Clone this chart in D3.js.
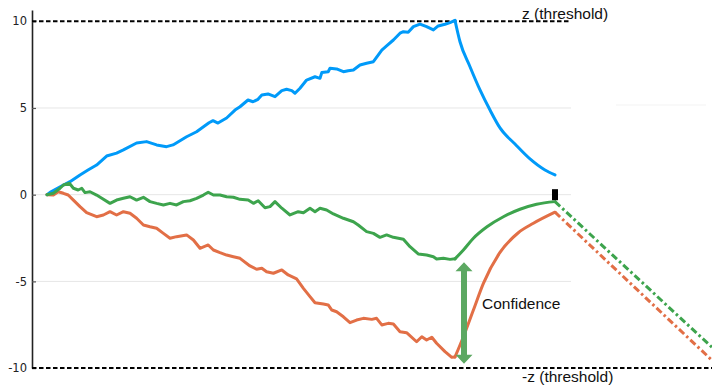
<!DOCTYPE html>
<html>
<head>
<meta charset="utf-8">
<script src="https://cdn.jsdelivr.net/npm/d3@7"></script>
<style>
  html, body { margin: 0; padding: 0; background: #fff; }
  svg { display: block; }
</style>
</head>
<body>
<svg id="chart" width="712" height="385"></svg>
<script>
// Evidence accumulation: three random walks race toward ±z, then relax.
const yTicks = [-10, -5, 0, 5, 10];
const gridValues = [5, 0, -5];
const thresholdValues = [10, -10];
const thresholdLabels = ["z (threshold)", "-z (threshold)"];

// accumulation phase (steps, values)
const blueSteps = [0, 1, 4.1, 5.75, 8.25, 10.25, 12.4, 14.9, 17.4, 19.1, 22.4, 24.9, 27.4, 29.9, 31.5, 34.9, 37.4,
  40.5, 41.5, 42.75, 44.9, 47, 48.25, 50.25, 51.5, 52.75, 53.7, 55.25, 57, 58.7, 59.9, 61.2, 62, 63.25, 64.9, 67,
  68.25, 68.7, 70.3, 70.75, 72.4, 74.1, 75.3, 76.6, 78.25, 79.9, 81.6, 83.7, 84.9, 86.6, 88.25, 89.1, 90.3, 91.6,
  93.25, 94.9, 96.6, 97.8, 99.5, 100.75, 102];
const blueValues = [0, 0.17, 0.56, 0.75, 1.14, 1.42, 1.71, 2.23, 2.40, 2.58, 2.98, 3.06, 2.87, 2.77, 2.87, 3.34, 3.63,
  4.15, 4.27, 4.13, 4.42, 4.88, 5.07, 5.46, 5.36, 5.50, 5.75, 5.81, 5.65, 6.00, 6.08, 6.00, 5.85, 6.14, 6.61, 6.80,
  6.71, 7.04, 7.09, 7.29, 7.25, 7.09, 7.15, 7.19, 7.48, 7.58, 7.67, 8.34, 8.58, 8.92, 9.31, 9.40, 9.37, 9.69,
  9.84, 9.69, 9.50, 9.73, 9.83, 9.92, 10.05];

const greenSteps = [0, 1.6, 3.25, 4.1, 5.6, 6.6, 7.8, 8.7, 9.5, 10.75, 12.4, 13.7, 15.75, 17.4, 19.1, 20.75, 22.4,
  24.1, 25.75, 27.4, 29.1, 30.75, 32.4, 34.1, 35.75, 37.4, 39.1, 40.3, 41.6, 43.25, 44.9, 46.6, 48.25, 50.3, 51.6,
  52.8, 54.5, 55.75, 57, 58.7, 60.75, 62.8, 64.1, 65.75, 67, 68.25, 69.9, 71.6, 74.1, 76.6, 77.8, 79.9, 81.6, 83.25,
  84.9, 86.6, 89.1, 90.75, 92.8, 94.9, 96.6, 97.4, 99.1, 100.75, 102];
const greenValues = [0, 0.08, 0.37, 0.56, 0.66, 0.37, 0.27, 0.37, 0.12, 0.17, -0.02, -0.21, -0.50, -0.31, -0.21, -0.12,
  -0.31, -0.15, -0.40, -0.50, -0.59, -0.50, -0.59, -0.40, -0.35, -0.21, -0.02, 0.14, -0.02, -0.02, -0.12, -0.15,
  -0.27, -0.31, -0.50, -0.35, -0.75, -0.69, -0.40, -0.78, -1.17, -0.98, -1.04, -0.78, -0.98, -0.78, -0.88, -1.11,
  -1.36, -1.56, -1.75, -2.13, -2.23, -2.46, -2.32, -2.46, -2.57, -3.00, -3.42, -3.48, -3.58, -3.71, -3.67, -3.73,
  -3.70];

const orangeSteps = [0, 1.6, 2.8, 4.1, 5.3, 6.6, 8.25, 9.9, 12.4, 14.1, 15.75, 17.4, 19.1, 20.75, 22.4, 24.1, 25.75,
  27.4, 29.1, 30.75, 32.4, 34.9, 36.6, 38.25, 40.3, 41.6, 43.25, 44.9, 46.6, 48.25, 50.75, 52.4, 53.7, 54.9, 56.6,
  58.7, 60.3, 62.4, 64.1, 65.75, 67, 69.1, 70.3, 71.2, 72.4, 74.1, 75.75, 77.4, 79.1, 81.2, 82.4, 83.7, 85.3, 86.6,
  88.25, 89.9, 92.4, 93.7, 94.9, 96.2, 97.4, 99.5, 101.2, 102];
const orangeValues = [0, -0.02, 0.17, 0.08, -0.02, -0.31, -0.69, -1.04, -1.27, -1.17, -0.98, -1.17, -0.98, -1.07,
  -1.36, -1.75, -1.85, -1.94, -2.23, -2.51, -2.42, -2.32, -2.61, -3.09, -2.90, -3.19, -3.34, -3.48, -3.58, -3.67,
  -4.11, -4.30, -4.24, -4.44, -4.53, -4.34, -4.63, -4.86, -5.40, -5.88, -6.23, -6.30, -6.36, -6.65, -6.75, -7.04,
  -7.38, -7.23, -7.13, -7.19, -7.13, -7.51, -7.42, -7.46, -7.90, -7.96, -8.48, -8.19, -8.38, -8.22, -8.57, -9.05,
  -9.38, -9.36];

// relaxation phase after the decision
const blueDecaySteps = [102, 103.25, 105.75, 108.25, 110.75, 113.25, 117, 120.75, 124.5, 127];
const blueDecayValues = [10.05, 8.82, 7.38, 6.04, 4.88, 3.85, 2.92, 2.06, 1.42, 1.14];
const riseSteps = [102, 104.1, 106.6, 109.1, 110, 113.25, 114.1, 117.75, 118.25, 121.6, 122.4, 127];
const greenRiseValues = [-3.70, -3.19, -2.51, null, -1.85, null, -1.27, null, -0.84, null, -0.55, -0.40];
const orangeRiseValues = [-9.36, -8.19, -6.65, -5.11, null, -3.33, null, -2.21, null, -1.65, null, -1.01];

// projected continuation (dash-dot)
const projSteps = [127, 166.25];
const greenProjValues = [-0.40, -8.80];
const orangeProjValues = [-1.01, -9.55];

// annotation values
const markerStep = 127, markerValue = 0;
const arrowStep = 104.25, arrowTop = -3.9, arrowBottom = -9.75;
const confidenceLabel = "Confidence";

const colors = { blue: "#009AF9", orange: "#E26F46", green: "#3DA44D" };

const svg = d3.select("#chart");
const x = d3.scaleLinear().domain([0, 166.25]).range([47, 712]);
const y = d3.scaleLinear().domain([-10, 10.65]).range([368.1, 10]);

const plotLeft = x(-3.75), plotRight = x(131);

// gridlines
svg.append("g").selectAll("line").data(gridValues).join("line")
  .attr("x1", plotLeft).attr("x2", plotRight)
  .attr("y1", d => y(d)).attr("y2", d => y(d))
  .attr("stroke", "#e6e6e6").attr("stroke-width", 1);

// faint frame fragment at upper right
svg.append("line")
  .attr("x1", x(142.25)).attr("x2", x(164.75))
  .attr("y1", y(5.17)).attr("y2", y(5.17))
  .attr("stroke", "#f3f3f3").attr("stroke-width", 1);

// y axis, ticks pointing into the plot; labels use a plain hyphen for negatives
const axis = svg.append("g")
  .attr("transform", `translate(${plotLeft},0)`)
  .call(d3.axisLeft(y).tickValues(yTicks).tickSize(-4).tickSizeOuter(0).tickPadding(5).tickFormat(d => String(d)));
axis.select(".domain").attr("stroke", "#222").attr("stroke-width", 1.6);
axis.selectAll(".tick line").attr("stroke", "#555").attr("stroke-width", 1.2);
axis.selectAll(".tick text")
  .attr("fill", "#222").style("font-family", "DejaVu Sans, sans-serif").style("font-size", "11.5px");

// thresholds
const thrEnd = [plotRight, 712];
svg.append("g").selectAll("line").data(thresholdValues).join("line")
  .attr("x1", plotLeft).attr("x2", (d, i) => thrEnd[i])
  .attr("y1", d => y(d)).attr("y2", d => y(d))
  .attr("stroke", "#000").attr("stroke-width", 2).attr("stroke-dasharray", "4.5,2.5");
const thrBaseline = [19, 382];
svg.append("g").selectAll("text").data(thresholdLabels).join("text")
  .attr("x", 522).attr("y", (d, i) => thrBaseline[i])
  .attr("fill", "#111")
  .style("font-family", "Liberation Sans, Arial, sans-serif").style("font-size", "15.5px")
  .text(d => d);

const zip = (xs, vs) => xs.map((s, i) => [s, vs[i]]).filter(p => p[1] !== null);
const walkLine = d3.line().x(d => x(d[0])).y(d => y(d[1]));
const smoothLine = d3.line().x(d => x(d[0])).y(d => y(d[1])).curve(d3.curveMonotoneX);

function draw(path, data, color, dash) {
  svg.append("path").attr("d", path(data))
    .attr("fill", "none").attr("stroke", color).attr("stroke-width", 3)
    .attr("stroke-linejoin", "round").attr("stroke-linecap", dash ? "butt" : "round")
    .attr("stroke-dasharray", dash || null);
}

// projected continuations
draw(walkLine, zip(projSteps, greenProjValues), colors.green, "7,3,2.5,3");
draw(walkLine, zip(projSteps, orangeProjValues), colors.orange, "7,3,2.5,3");

// relaxation curves
draw(smoothLine, zip(blueDecaySteps, blueDecayValues), colors.blue);
draw(smoothLine, zip(riseSteps, greenRiseValues), colors.green);
draw(smoothLine, zip(riseSteps, orangeRiseValues), colors.orange);

// walks
draw(walkLine, zip(blueSteps, blueValues), colors.blue);
draw(walkLine, zip(orangeSteps, orangeValues), colors.orange);
draw(walkLine, zip(greenSteps, greenValues), colors.green);

// decision marker
svg.append("rect")
  .attr("x", x(markerStep) - 3).attr("y", y(markerValue) - 5.5)
  .attr("width", 6).attr("height", 11).attr("fill", "#000");

// confidence arrow (double headed)
const ax = x(arrowStep), aTop = y(arrowTop), aBot = y(arrowBottom);
const arrowColor = "rgb(92,168,98)";
const head = 9, halfHead = 8.5, halfShaft = 3;
svg.append("path")
  .attr("d", `M${ax},${aTop} L${ax + halfHead},${aTop + head} L${ax + halfShaft},${aTop + head}
    L${ax + halfShaft},${aBot - head} L${ax + halfHead},${aBot - head} L${ax},${aBot}
    L${ax - halfHead},${aBot - head} L${ax - halfShaft},${aBot - head} L${ax - halfShaft},${aTop + head}
    L${ax - halfHead},${aTop + head} Z`)
  .attr("fill", arrowColor);

svg.append("text")
  .attr("x", 482).attr("y", 308.5)
  .attr("fill", "#111")
  .style("font-family", "Liberation Sans, Arial, sans-serif").style("font-size", "15.5px")
  .text(confidenceLabel);
</script>
</body>
</html>
